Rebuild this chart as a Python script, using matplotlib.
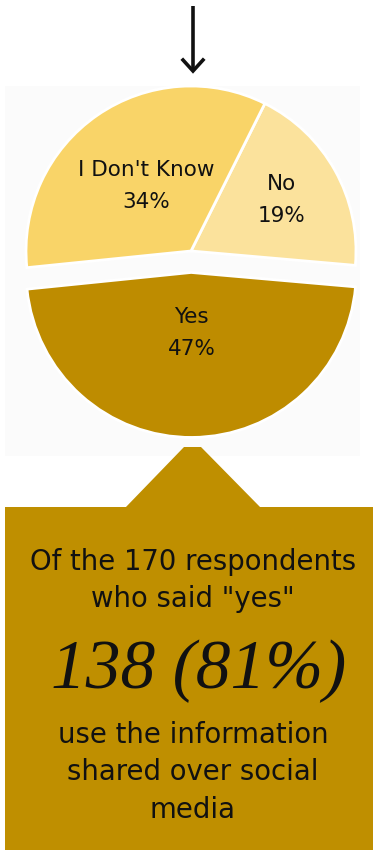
import numpy as np
import matplotlib.pyplot as plt
from matplotlib.patches import Rectangle, Polygon

# pie data (counter-clockwise from the right edge)
labels = ["No", "I Don't Know", "Yes"]
values = [19, 34, 47]
colors = ["#FBE29C", "#F9D468", "#BE8C00"]
explode = [0, 0, 0.13]
label_r = [0.63, 0.48, 0.37]

# callout text
top_lines = ["Of the 170 respondents", "who said \"yes\""]
big_text = "138 (81%)"
bottom_lines = ["use the information", "shared over social", "media"]

W, H = 373, 850

fig = plt.figure(figsize=(W / 100, H / 100), dpi=100)
fig.patch.set_facecolor("white")

# background axes in pixel coordinates (y down)
bg = fig.add_axes([0, 0, 1, 1])
bg.set_xlim(0, W)
bg.set_ylim(H, 0)
bg.axis("off")

# faint panel behind the pie
bg.add_patch(Rectangle((5, 86), 355, 370, facecolor="#fbfbfb", edgecolor="none"))

# arrow
bg.plot([193, 193], [6, 71], color="#111111", lw=2.6, solid_capstyle="butt")
bg.plot([183, 193, 203], [60, 71, 60], color="#111111", lw=2.6,
        solid_joinstyle="miter")

# callout box with notch
box_col = "#BF8F00"
bg.add_patch(Rectangle((5, 507), W - 5, H - 507, facecolor=box_col, edgecolor="none"))
bg.add_patch(Polygon([(125, 508), (184, 447), (201, 447), (261, 508)],
                     closed=True, facecolor=box_col, edgecolor="none"))

font = "DejaVu Sans"
for txt, y in zip(top_lines, [562, 599]):
    bg.text(193, y, txt, ha="center", va="center", fontsize=19.8,
            family=font, color="#111111")
bg.text(199, 671, big_text, ha="center", va="center", fontsize=50,
        family="Liberation Serif", style="italic", color="#111111")
for txt, y in zip(bottom_lines, [735, 772, 810]):
    bg.text(193, y, txt, ha="center", va="center", fontsize=19.8,
            family=font, color="#111111")

# pie axes
cx, cy, r = 191, 251, 165
span = 1.3
ax = fig.add_axes([(cx - span * r) / W, (H - cy - span * r) / H,
                   2 * span * r / W, 2 * span * r / H])
wedges, _ = ax.pie(values, colors=colors, explode=explode, startangle=-5,
                   counterclock=True, wedgeprops=dict(edgecolor="white", linewidth=2))
ax.set_aspect("auto")
ax.set_xlim(-span, span)
ax.set_ylim(-span, span)
ax.axis("off")

for w, name, v, lr, ex in zip(wedges, labels, values, label_r, explode):
    mid = np.deg2rad((w.theta1 + w.theta2) / 2)
    d = lr + ex
    ax.text(d * np.cos(mid), d * np.sin(mid), f"{name}\n{v}%", ha="center",
            va="center", fontsize=15.5, family=font, color="#111111",
            linespacing=1.75)

fig.savefig("out.png", dpi=100)
